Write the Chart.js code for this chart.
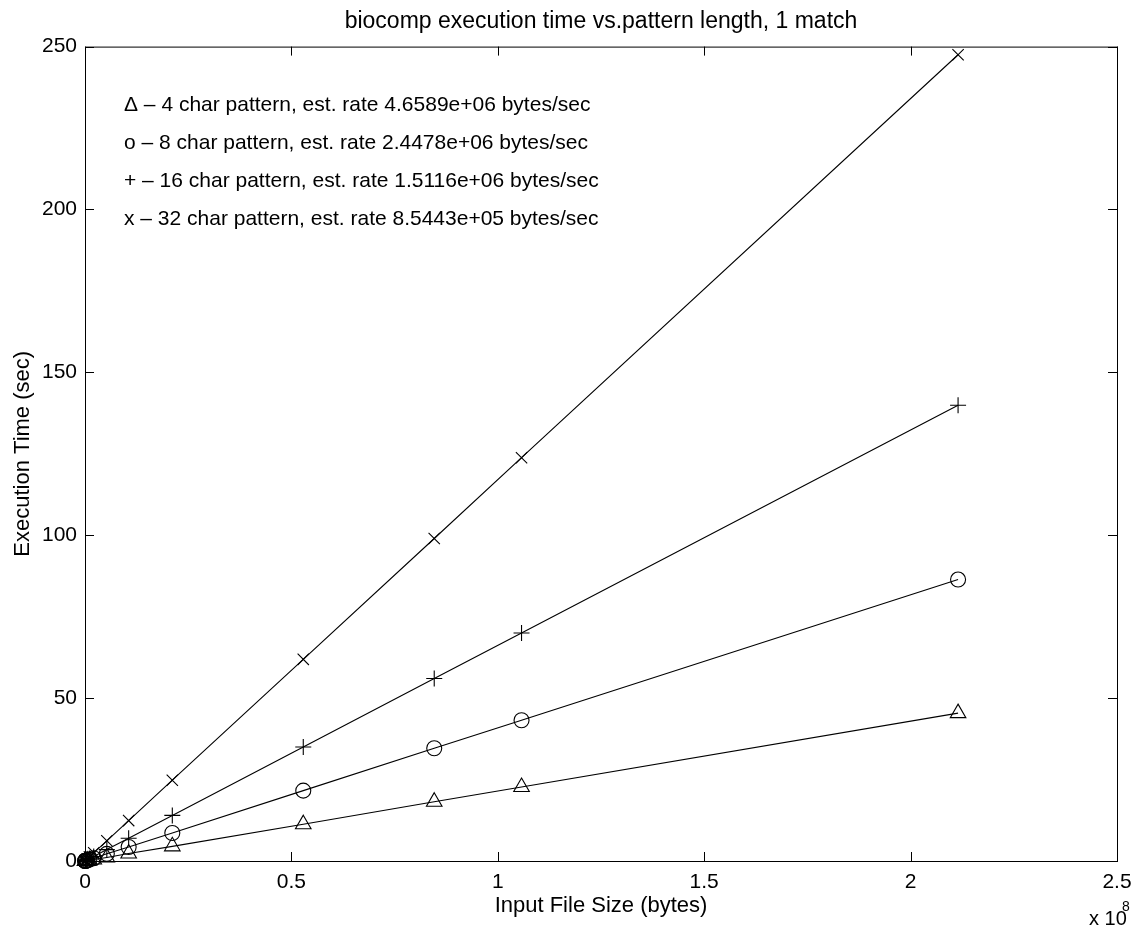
<!DOCTYPE html>
<html>
<head>
<meta charset="utf-8">
<title>biocomp execution time</title>
<script src="https://cdn.jsdelivr.net/npm/chart.js@4.4.0/dist/chart.umd.min.js"></script>
<style>
  body { margin: 0; background: #fff; }
  canvas { display: block; }
</style>
</head>
<body>
<canvas id="myChart" width="1139" height="930"></canvas>
<script>
var sizes   = [211500000, 105750000, 84600000, 52875000, 21150000, 10575000, 5287500, 2115000, 1057500, 528750, 211500, 105750, 52875, 21150];
var tri4    = [45.4, 22.7, 18.2, 11.3, 4.5, 2.3, 1.1, 0.45, 0.23, 0.11, 0.05, 0.02, 0.01, 0.005];
var circ8   = [86.4, 43.2, 34.6, 21.6, 8.6, 4.3, 2.2, 0.86, 0.43, 0.22, 0.09, 0.04, 0.02, 0.009];
var plus16  = [139.9, 70.0, 56.0, 35.0, 14.0, 7.0, 3.5, 1.4, 0.7, 0.35, 0.14, 0.07, 0.035, 0.014];
var cross32 = [247.5, 123.8, 99.0, 61.9, 24.8, 12.4, 6.2, 2.5, 1.24, 0.62, 0.25, 0.12, 0.06, 0.025];

var xTicks = [0, 0.5e8, 1e8, 1.5e8, 2e8, 2.5e8];
var yTicks = [0, 50, 100, 150, 200, 250];

var noteLines = [
  "\u0394 \u2013 4 char pattern, est. rate 4.6589e+06 bytes/sec",
  "o \u2013 8 char pattern, est. rate 2.4478e+06 bytes/sec",
  "+ \u2013 16 char pattern, est. rate 1.5116e+06 bytes/sec",
  "x \u2013 32 char pattern, est. rate 8.5443e+05 bytes/sec"
];

var FONT = '"Liberation Sans", Arial, Helvetica, sans-serif';

function pts(ys) {
  return sizes.map(function (s, i) { return { x: s, y: ys[i] }; });
}

function series(ys, style, r) {
  return {
    data: pts(ys),
    showLine: true,
    borderColor: '#000',
    borderWidth: 1.1,
    backgroundColor: 'rgba(0,0,0,0)',
    pointStyle: style,
    pointRadius: r,
    pointBorderColor: '#000',
    pointBackgroundColor: 'rgba(0,0,0,0)',
    pointBorderWidth: 1.1,
    tension: 0,
    clip: false
  };
}

// matlab style box, inward ticks, text notes
var matlabBox = {
  id: 'matlabBox',
  afterDatasetsDraw: function (chart) {
    var ctx = chart.ctx, a = chart.chartArea;
    var xs = chart.scales.x, ys = chart.scales.y;
    var tl = 9;
    ctx.save();
    ctx.strokeStyle = '#000';
    ctx.lineWidth = 1;
    ctx.strokeRect(a.left + 0.5, a.top + 0.5, a.right - a.left, a.bottom - a.top);
    ctx.beginPath();
    xTicks.forEach(function (v) {
      var px = Math.round(xs.getPixelForValue(v)) + 0.5;
      ctx.moveTo(px, a.bottom); ctx.lineTo(px, a.bottom - tl);
      ctx.moveTo(px, a.top); ctx.lineTo(px, a.top + tl);
    });
    yTicks.forEach(function (v) {
      var py = Math.round(ys.getPixelForValue(v)) + 0.5;
      ctx.moveTo(a.left, py); ctx.lineTo(a.left + tl, py);
      ctx.moveTo(a.right, py); ctx.lineTo(a.right - tl, py);
    });
    ctx.stroke();

    ctx.fillStyle = '#000';
    ctx.font = '21px ' + FONT;
    ctx.textBaseline = 'middle';
    ctx.textAlign = 'left';
    noteLines.forEach(function (t, i) {
      ctx.fillText(t, 124, 105 + i * 38);
    });

    ctx.textBaseline = 'alphabetic';
    ctx.font = '20px ' + FONT;
    ctx.fillText('x 10', 1089, 925);
    ctx.font = '14px ' + FONT;
    ctx.fillText('8', 1122, 911);
    ctx.restore();
  }
};

new Chart("myChart", {
  type: "scatter",
  data: {
    datasets: [
      series(tri4, 'triangle', 9),
      series(circ8, 'circle', 7.5),
      series(plus16, 'cross', 8),
      series(cross32, 'crossRot', 8)
    ]
  },
  options: {
    responsive: false,
    animation: false,
    layout: { padding: { left: 0, right: 22, top: 0, bottom: 0 } },
    plugins: {
      legend: { display: false },
      tooltip: { enabled: false },
      title: {
        display: true,
        fullSize: false,
        text: "biocomp execution time vs.pattern length, 1 match",
        color: '#000',
        font: { family: FONT, size: 23, weight: 'normal' },
        padding: { top: 8, bottom: 11 }
      }
    },
    scales: {
      x: {
        type: 'linear',
        min: 0,
        max: 2.5e8,
        grid: { display: false },
        border: { display: false },
        afterBuildTicks: function (s) { s.ticks = xTicks.map(function (v) { return { value: v }; }); },
        afterFit: function (s) { s.height = 69; s.paddingLeft = 0; s.paddingRight = 0; },
        ticks: {
          color: '#000',
          font: { family: FONT, size: 21 },
          padding: 1,
          maxRotation: 0,
          callback: function (v) { return String(v / 1e8); }
        },
        title: {
          display: true,
          text: 'Input File Size (bytes)',
          color: '#000',
          font: { family: FONT, size: 22 },
          padding: { top: 0, bottom: 11 }
        }
      },
      y: {
        type: 'linear',
        min: 0,
        max: 250,
        grid: { display: false },
        border: { display: false },
        afterBuildTicks: function (s) { s.ticks = yTicks.map(function (v) { return { value: v }; }); },
        afterFit: function (s) { s.width = 85; s.paddingTop = 0; s.paddingBottom = 0; },
        ticks: {
          color: '#000',
          font: { family: FONT, size: 21 },
          padding: 0
        },
        title: {
          display: true,
          text: 'Execution Time (sec)',
          color: '#000',
          font: { family: FONT, size: 22 },
          padding: { top: 10, bottom: 0 }
        }
      }
    }
  },
  plugins: [matlabBox]
});
</script>
</body>
</html>
